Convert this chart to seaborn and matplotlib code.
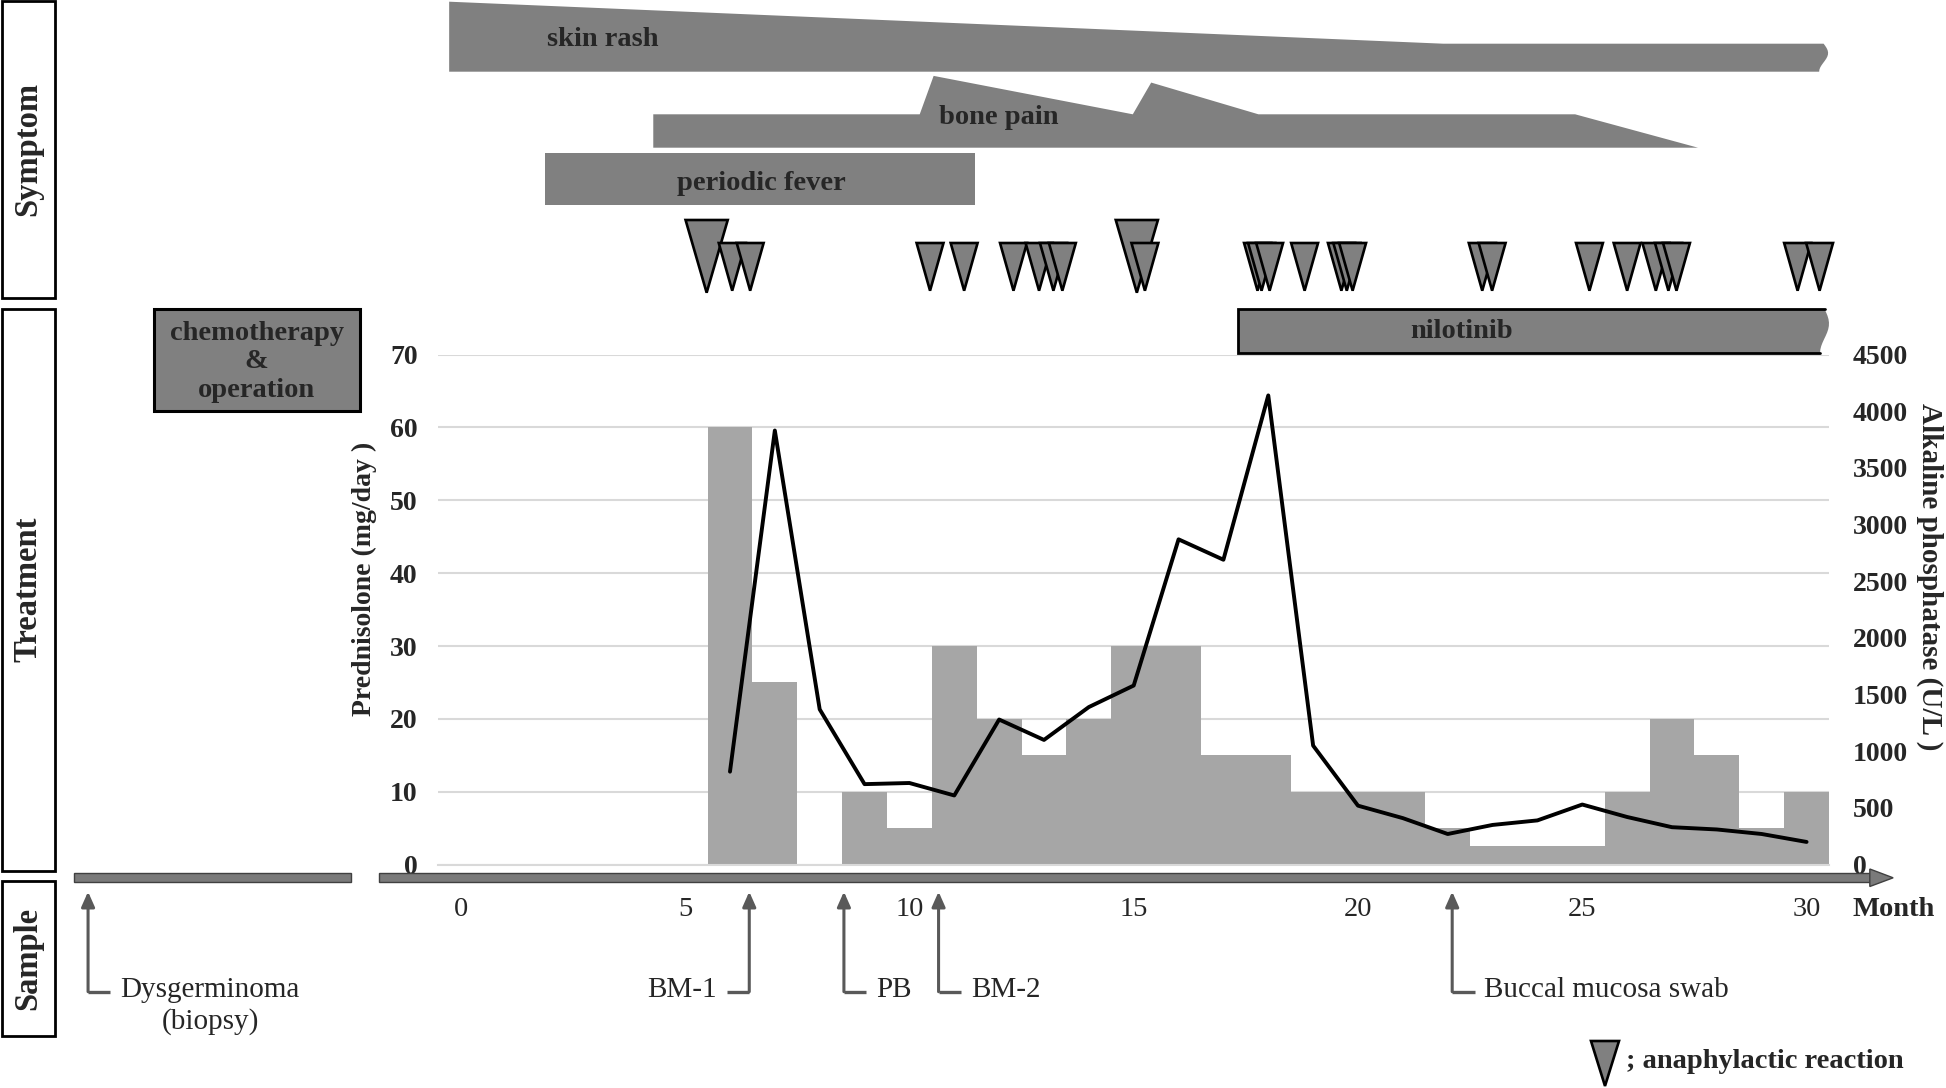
import numpy as np
import pandas as pd
import matplotlib
matplotlib.use("Agg")
import matplotlib.pyplot as plt
import seaborn as sns
from matplotlib.patches import Polygon, Rectangle
from matplotlib.transforms import blended_transform_factory

# ---------------- data ----------------
months = list(range(0, 31))
prednisolone = [0, 0, 0, 0, 0, 0, 60, 25, 0, 10, 5, 30, 20, 15, 20, 30, 30, 15, 15,
                10, 10, 10, 5, 2.5, 2.5, 2.5, 10, 20, 15, 5, 10]
alp_months = list(range(6, 31))
alp = [820, 3830, 1370, 710, 720, 610, 1280, 1100, 1390, 1580, 2870, 2690, 4140,
       1050, 520, 410, 270, 350, 390, 530, 420, 330, 310, 270, 200]

month_ticks = [0, 5, 10, 15, 20, 25, 30]
pred_ticks = [0, 10, 20, 30, 40, 50, 60, 70]
alp_ticks = list(range(0, 4501, 500))

# symptom courses: month and relative intensity
symptoms = ["skin rash", "bone pain", "periodic fever"]
skin_rash_t = [-0.26, 21.9, 30.38]
skin_rash_i = [2.5, 1.0, 1.0]
bone_pain_t = [4.29, 10.23, 10.54, 14.98, 15.39, 17.78, 24.84, 27.58]
bone_pain_i = [1.0, 1.0, 2.15, 1.0, 1.95, 1.0, 1.0, 0.0]
fever_t = [1.885, 11.47]
fever_i = [1.0, 1.0]
symptom_label_t = [3.17, 11.99, 6.69]

# anaphylactic reactions (month, 1 = severe/large marker)
ana_t = [5.48, 6.05, 6.45, 10.46, 11.22, 12.32, 12.89, 13.21, 13.41, 15.07, 15.25,
         17.76, 17.85, 18.03, 18.81, 19.63, 19.75, 19.88, 22.77, 22.99, 25.16, 26.0,
         26.64, 26.92, 27.1, 29.8, 30.29]
ana_big = [1, 0, 0, 0, 0, 0, 0, 0, 0, 1, 0, 0, 0, 0, 0, 0, 0, 0, 0, 0, 0, 0, 0, 0, 0, 0, 0]

treatments = ["chemotherapy\n&\noperation", "nilotinib"]
treat_start = [-6.83, 17.33]
treat_end = [-2.25, 30.4]
treat_label_t = [-4.55, 22.3]

samples = ["Dysgerminoma\n(biopsy)", "BM-1", "PB", "BM-2", "Buccal mucosa swab"]
sample_t = [-8.31, 6.43, 8.54, 10.65, 22.1]
sample_side = [1, -1, 1, 1, 1]

timeline_start = -8.63
timeline_gap = [-2.45, -1.83]
timeline_end = 31.93

sections = ["Symptom", "Treatment", "Sample"]

# ---------------- style ----------------
sns.set_style("white")
plt.rcParams['font.family'] = ['Liberation Serif', 'DejaVu Serif']

DARK = "#808080"
BAR = "#a6a6a6"
GRID = "#d9d9d9"
ARROW = "#595959"

W, H = 1946, 1088
fig = plt.figure(figsize=(W / 100, H / 100), dpi=100)

PL, PR, PT, PB = 438.4, 1829.0, 354.6, 864.6
ax = fig.add_axes([PL / W, 1 - PB / H, (PR - PL) / W, (PB - PT) / H])

df = pd.DataFrame({"month": months, "pred": prednisolone})
sns.barplot(data=df, x="month", y="pred", color=BAR, saturation=1, width=1.0,
            linewidth=0, ax=ax, zorder=2)
ax2 = ax.twinx()
sns.lineplot(x=alp_months, y=alp, ax=ax2, color="black", lw=2.8)

ax.set_xlim(-0.5, 30.5)
ax.set_ylim(0, 70)
ax2.set_ylim(0, 4500)
ax.set_xlabel("")
ax.set_ylabel("")
ax2.set_ylabel("")
ax.set_xticks([])
ax.set_xticks(np.arange(-0.5, 31, 1), minor=True)
ax.tick_params(axis="x", which="minor", length=4, width=1.2, color=GRID, direction="out")
ax.set_yticks(pred_ticks)
ax.set_yticklabels([str(v) for v in pred_ticks], fontsize=20, fontweight="bold")
ax.tick_params(axis="y", length=0, pad=15)
ax2.set_yticks(alp_ticks)
ax2.set_yticklabels([str(v) for v in alp_ticks], fontsize=20, fontweight="bold")
ax2.tick_params(axis="y", length=0, pad=17)
ax.yaxis.grid(True, color=GRID, lw=1.5)
ax.set_axisbelow(True)
for s in ["top", "right", "left"]:
    ax.spines[s].set_visible(False)
ax.spines["bottom"].set_color(GRID)
ax.spines["bottom"].set_linewidth(1.5)
for s in ax2.spines.values():
    s.set_visible(False)

ax.text(-0.0535, 0.561, "Prednisolone (mg/day )", transform=ax.transAxes, rotation=90,
        ha="center", va="center", fontsize=20, fontweight="bold")
ax2.text(1.0726, 0.564, "Alkaline phosphatase (U/L )", transform=ax.transAxes, rotation=270,
         ha="center", va="center", fontsize=21, fontweight="bold")

# ---------------- overlay (x: months via main axes, y: layout px) ----------------
ov = fig.add_axes([0, 0, 1, 1], zorder=5)
ov.set_xlim(0, W)
ov.set_ylim(H, 0)
ov.axis("off")
tr = blended_transform_factory(ax.transData, ov.transData)


def band(t, inten, bottom, unit, wavy=False):
    pts = [(ti, bottom - unit * ii) for ti, ii in zip(t, inten)]
    if wavy:
        y0 = pts[-1][1]
        for s in np.linspace(0, 1, 14):
            pts.append((t[-1] + 0.1 * np.sin(1.5 * np.pi * s), y0 + (bottom - y0) * s))
    else:
        pts.append((t[-1], bottom))
    pts.append((t[0], bottom))
    ov.add_patch(Polygon(pts, closed=True, transform=tr, facecolor=DARK, edgecolor="none"))


band(skin_rash_t, skin_rash_i, 71.7, 28.0, wavy=True)
band(bone_pain_t, bone_pain_i, 147.7, 33.4)
band(fever_t, fever_i, 205.0, 51.7)
for lab, lt, ly in zip(symptoms, symptom_label_t, [40, 117, 183]):
    ov.text(lt, ly, lab, transform=tr, ha="center", va="center", fontsize=20.5,
            fontweight="bold")

# anaphylactic reactions
for t, big in zip(ana_t, ana_big):
    half, top, tip = (0.47, 220.0, 292.7) if big else (0.30, 243.0, 290.7)
    ov.add_patch(Polygon([(t - half, top), (t + half, top), (t, tip)], closed=True,
                         transform=tr, facecolor=DARK, edgecolor="black", lw=1.9,
                         joinstyle="miter"))

# treatments
s0, e0 = treat_start[0], treat_end[0]
ov.add_patch(Rectangle((s0, 309), e0 - s0, 102, transform=tr, facecolor=DARK,
                       edgecolor="black", lw=2.2))
ov.text(treat_label_t[0], 362, treatments[0], transform=tr, ha="center", va="center",
        fontsize=20.5, fontweight="bold", linespacing=1.18)
s1, e1 = treat_start[1], treat_end[1]
pts = [(s1, 309), (e1, 309)]
for s in np.linspace(0, 1, 14):
    pts.append((e1 + 0.1 * np.sin(1.5 * np.pi * s), 309 + 44 * s))
pts.append((s1, 353))
ov.add_patch(Polygon(pts, closed=True, transform=tr, facecolor=DARK, edgecolor="none"))
ov.plot([e1, s1, s1, e1 - 0.1], [309, 309, 353, 353], transform=tr, color="black", lw=2.0,
        solid_joinstyle="miter")
ov.text(treat_label_t[1], 332, treatments[1], transform=tr, ha="center", va="center",
        fontsize=20.5, fontweight="bold")

# timeline
TL_EDGE = "#404040"
ov.add_patch(Rectangle((timeline_start, 873.3), timeline_gap[0] - timeline_start, 9,
                       transform=tr, facecolor="#7a7a7a", edgecolor=TL_EDGE, lw=1.0))
head_start = timeline_end - 0.52
ov.add_patch(Rectangle((timeline_gap[1], 873.3), head_start - timeline_gap[1], 9,
                       transform=tr, facecolor="#7a7a7a", edgecolor=TL_EDGE, lw=1.0))
ov.add_patch(Polygon([(head_start, 869), (timeline_end, 877.8), (head_start, 886.5)],
                     closed=True, transform=tr, facecolor="#7a7a7a", edgecolor=TL_EDGE, lw=1.0))
for m in month_ticks:
    ov.text(m, 909, str(m), transform=tr, ha="center", va="center", fontsize=20.5)
ov.text(timeline_end, 909, "Month", transform=tr, ha="center", va="center",
        fontsize=20.5, fontweight="bold")

# samples
for lab, t, side in zip(samples, sample_t, sample_side):
    ov.annotate("", xy=(t, 891.7), xytext=(t, 991.7), xycoords=tr, textcoords=tr,
                arrowprops=dict(arrowstyle="-|>,head_length=0.45,head_width=0.2",
                                mutation_scale=20, color=ARROW, lw=2.2,
                                shrinkA=0, shrinkB=0))
    ov.plot([t, t + side * 0.5], [991.7, 991.7], transform=tr, color=ARROW, lw=2.4,
            solid_capstyle="butt")
    if "\n" in lab:
        ov.text(t + 0.5 + 0.22, 1006, lab, transform=tr, ha="left", va="center",
                multialignment="center", fontsize=21, linespacing=1.22)
    else:
        ov.text(t + side * (0.5 + 0.22), 990, lab, transform=tr,
                ha="left" if side > 0 else "right", va="center", fontsize=21)

# section boxes
for lab, (y0, y1) in zip(sections, [(1, 298), (308.5, 870.5), (881, 1036)]):
    ov.add_patch(Rectangle((1.5, y0), 53.5, y1 - y0, facecolor="white", edgecolor="black",
                           lw=2.0))
    ov.text(28, (y0 + y1) / 2, lab, rotation=90, ha="center", va="center",
            fontsize=23.5, fontweight="bold")

# legend
ov.add_patch(Polygon([(1591, 1041), (1619, 1041), (1605, 1086)], closed=True,
                     facecolor=DARK, edgecolor="black", lw=1.9))
ov.text(1626, 1061, "; anaphylactic reaction", ha="left", va="center", fontsize=20.5,
        fontweight="bold")

fig.savefig("out.png", dpi=100)
